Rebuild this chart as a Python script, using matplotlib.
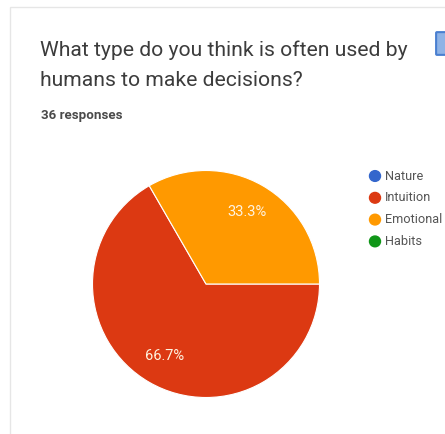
import matplotlib.pyplot as plt
from matplotlib.patches import Rectangle, FancyBboxPatch

categories = ["Nature", "Intuition", "Emotional", "Habits"]
counts = [0, 24, 12, 0]
pie_colors = ["#3366cc", "#dc3912", "#ff9900", "#109618"]
title_lines = ["What type do you think is often used by", "humans to make decisions?"]
subtitle = "36 responses"

W, H = 445, 434
fig = plt.figure(figsize=(W / 100, H / 100), dpi=100)
fig.patch.set_facecolor("white")

# faint card border
fig.patches.append(Rectangle((10 / W, -0.1), 1.2, (H - 7) / H + 0.1,
                             transform=fig.transFigure, fill=False,
                             edgecolor="#e6e6e6", linewidth=1))

for i, line in enumerate(title_lines):
    fig.text(40 / W, 1 - (50 + 30 * i) / H, line, fontsize=15.2, color="#3c3c3c",
             family="Roboto", va="center", ha="left")
fig.text(41 / W, 1 - 115 / H, subtitle, fontsize=9.6, color="#4a4a4a",
         family="Roboto", weight="bold", va="center", ha="left")

# copy icon (partly cut off at the right edge)
fig.patches.append(FancyBboxPatch((437 / W, 1 - 54 / H), 12 / W, 21 / H,
                                  boxstyle="round,pad=0.002",
                                  transform=fig.transFigure,
                                  facecolor="#8fb3e6", edgecolor="#4a7fd0",
                                  linewidth=1.5))

# pie
cx, cy, r = 206, 284, 113.5
ax = fig.add_axes([(cx - r) / W, (H - cy - r) / H, 2 * r / W, 2 * r / H])
nz = [(c, v, col) for c, v, col in zip(categories, counts, pie_colors) if v > 0]
wedges, texts, autotexts = ax.pie(
    [v for _, v, _ in nz], colors=[col for _, _, col in nz],
    startangle=0, counterclock=False, autopct="%1.1f%%", pctdistance=0.73,
    wedgeprops=dict(edgecolor="white", linewidth=0.8),
    textprops=dict(color="#fff3e0", fontsize=10.5, family="Roboto"))
ax.set_xlim(-1.0, 1.0)
ax.set_ylim(-1.0, 1.0)
ax.set_aspect("equal")
ax.axis("off")

# legend
ly0 = 176
for i, (cat, col) in enumerate(zip(categories, pie_colors)):
    y = 1 - (ly0 + i * 21.8) / H
    fig.patches.append(plt.Circle((375 / W, y), 5.5 / W, transform=fig.transFigure,
                                  color=col))
    fig.text(385 / W, y, cat, fontsize=9.2, color="#555555", family="Roboto",
             va="center", ha="left")

fig.savefig("out.png", dpi=100)
